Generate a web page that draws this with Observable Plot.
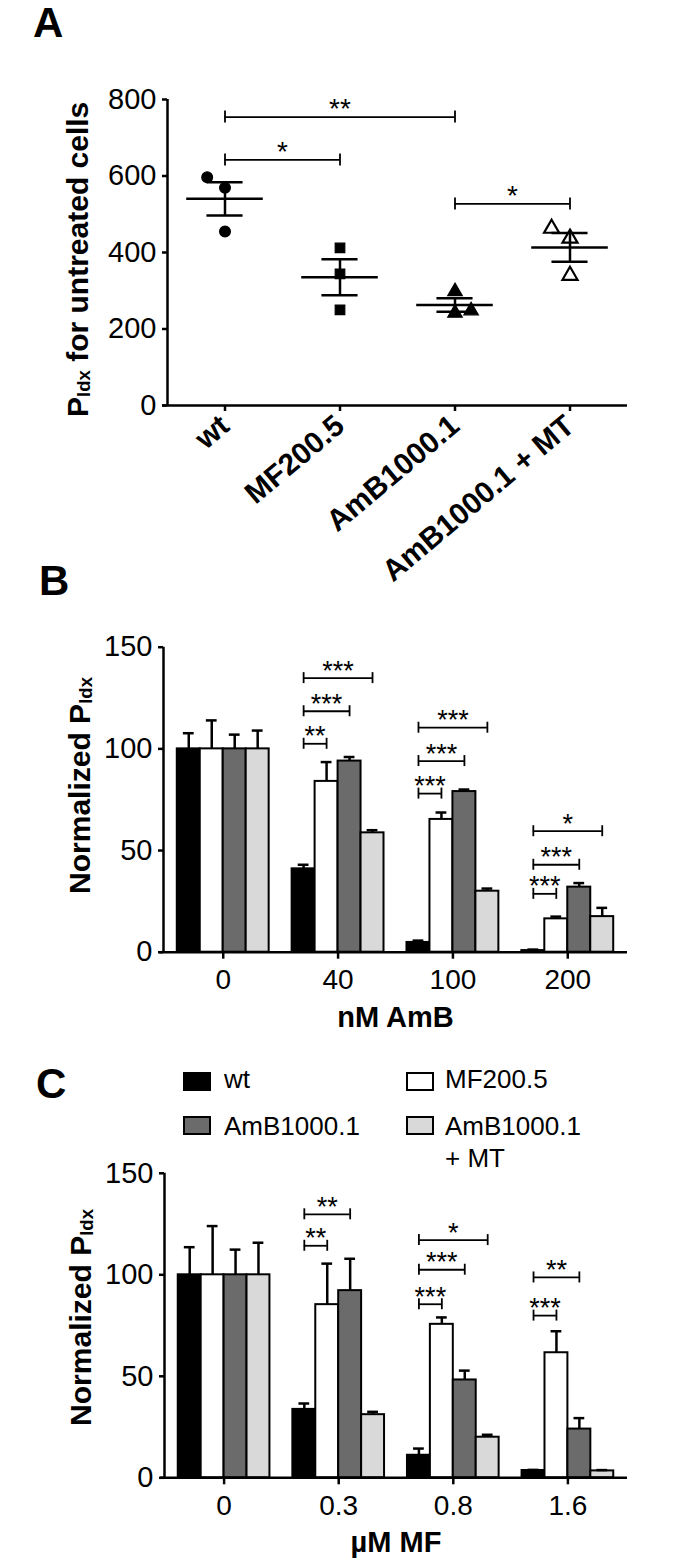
<!DOCTYPE html>
<html>
<head>
<meta charset="utf-8">
<script src="https://cdn.jsdelivr.net/npm/d3@7"></script>
<script src="https://cdn.jsdelivr.net/npm/@observablehq/plot@0.6"></script>
<style>
  html, body { margin: 0; padding: 0; background: #fff; }
  body { font-family: "Liberation Sans", Arial, Helvetica, sans-serif; color: #000; }
  #root { position: relative; width: 673px; height: 1566px; overflow: hidden; background: #fff; }
  .panel { position: absolute; left: 0; }
  .letter { position: absolute; font-weight: bold; font-size: 42px; line-height: 42px; }
  .sw { position: absolute; width: 28px; height: 19px; box-sizing: border-box; border: 2px solid #000; }
  .lt { position: absolute; font-size: 26px; line-height: 26px; white-space: nowrap; }
</style>
</head>
<body>
<div id="root"></div>
<script>
// ---------------- data ----------------
const strains = ["wt", "MF200.5", "AmB1000.1", "AmB1000.1 + MT"];
const strainColors = ["#000000", "#ffffff", "#6b6b6b", "#d9d9d9"];

// Panel A: individual P_ldx values for untreated cells (n = 3 each)
const aWt = [597, 569, 455];
const aMF200 = [412, 344, 250];
const aAmB1000 = [298, 242, 248];
const aAmBMT = [463, 437, 340];
const aJitter = [[-0.155, 0, 0], [0, 0, 0], [0, 0, 0.14], [-0.16, 0, 0]];
const aTicks = [0, 200, 400, 600, 800];
const aSig = [
  {from: 0, to: 2, y: 754, label: "**"},
  {from: 0, to: 1, y: 642, label: "*"},
  {from: 2, to: 3, y: 527, label: "*"}
];

// Panel B: normalized P_ldx vs nM AmB (mean, SEM) per strain
const bDoses = ["0", "40", "100", "200"];
const bWt = [100, 41, 4.8, 0.8];
const bMF200 = [100, 84, 65.3, 16.4];
const bAmB1000 = [100, 94, 79, 32];
const bAmBMT = [100, 58.7, 30, 17.5];
const bWtSem = [7.7, 2, 0.9, 0.5];
const bMF200Sem = [14, 9.5, 3.4, 1.1];
const bAmB1000Sem = [7, 2, 1, 2];
const bAmBMTSem = [9, 1.3, 1.3, 4.3];
const bSig = [
  {g: 1, to: 1, y: 102.5, label: "**"},
  {g: 1, to: 2, y: 118.5, label: "***"},
  {g: 1, to: 3, y: 134.8, label: "***"},
  {g: 2, to: 1, y: 78, label: "***"},
  {g: 2, to: 2, y: 94, label: "***"},
  {g: 2, to: 3, y: 110.4, label: "***"},
  {g: 3, to: 1, y: 28.7, label: "***"},
  {g: 3, to: 2, y: 43, label: "***"},
  {g: 3, to: 3, y: 59.5, label: "*"}
];

// Panel C: normalized P_ldx vs µM MF (mean, SEM) per strain
const cDoses = ["0", "0.3", "0.8", "1.6"];
const cWt = [100, 33.7, 11.1, 3.6];
const cMF200 = [100, 85.3, 75.6, 61.6];
const cAmB1000 = [100, 92.2, 48.2, 24];
const cAmBMT = [100, 31.1, 20, 3.4];
const cWtSem = [13.6, 2.9, 3.3, 0.3];
const cMF200Sem = [24, 20.2, 3.4, 10.6];
const cAmB1000Sem = [12.4, 15.7, 4.6, 5.4];
const cAmBMTSem = [15.8, 1.4, 1.2, 0.4];
const cSig = [
  {g: 1, to: 1, y: 114.3, label: "**"},
  {g: 1, to: 2, y: 129.8, label: "**"},
  {g: 2, to: 1, y: 85.5, label: "***"},
  {g: 2, to: 2, y: 102.5, label: "***"},
  {g: 2, to: 3, y: 117.1, label: "*"},
  {g: 3, to: 1, y: 79.9, label: "***"},
  {g: 3, to: 2, y: 98.7, label: "**"}
];
const barTicks = [0, 50, 100, 150];

// ---------------- helpers ----------------
const FONT = "Liberation Sans, Arial, Helvetica, sans-serif";
const root = document.getElementById("root");

function subscriptify(svg, shift) {
  d3.select(svg).selectAll("text").each(function () {
    const t = this.textContent;
    const m = t.match(/^(.*)_\{(.*?)\}(.*)$/);
    if (!m) return;
    const el = d3.select(this);
    el.text(null);
    el.append("tspan").text(m[1]);
    el.append("tspan").attr("font-size", "62%").attr("dy", shift).text(m[2]);
    if (m[3]) el.append("tspan").attr("dy", -shift).text(m[3]);
  });
}

function place(node, top) {
  const wrap = document.createElement("div");
  wrap.className = "panel";
  wrap.style.top = top + "px";
  wrap.appendChild(node);
  root.appendChild(wrap);
}

function addDiv(cls, text, left, top, extra) {
  const d = document.createElement("div");
  d.className = cls;
  d.textContent = text;
  d.style.left = left + "px";
  d.style.top = top + "px";
  if (extra) Object.assign(d.style, extra);
  root.appendChild(d);
  return d;
}

// ---------------- Panel A ----------------
{
  const groups = [aWt, aMF200, aAmB1000, aAmBMT];
  const symbols = ["circle", "square", "triangle", "triangle"];
  const fills = ["black", "black", "black", "white"];
  const stats = groups.map((vals, i) => ({
    i, m: d3.mean(vals), sem: d3.deviation(vals) / Math.sqrt(vals.length)
  }));
  const dotMarks = groups.map((vals, i) =>
    Plot.dot(vals.map((v, j) => ({i, j, v})), {
      x: d => d.i + aJitter[d.i][d.j], y: "v",
      symbol: symbols[i], r: i === 3 ? 5.6 : 5.4,
      fill: fills[i], stroke: "black", strokeWidth: i === 3 ? 2.2 : 1.2
    })
  );
  const ends = aSig.flatMap(s => [{x: s.from, y: s.y}, {x: s.to, y: s.y}]);
  const xDomain = [-0.5, 3.5];
  const plotA = Plot.plot({
    width: 673, height: 600,
    marginLeft: 167, marginRight: 46, marginTop: 99, marginBottom: 195,
    style: {fontFamily: FONT, fontSize: "29px", color: "black", background: "white", overflow: "visible"},
    x: {type: "linear", domain: xDomain},
    y: {domain: [0, 800]},
    marks: [
      Plot.ruleX([xDomain[0]], {strokeWidth: 2.5}),
      Plot.ruleY([0], {strokeWidth: 2.5, insetLeft: -5}),
      Plot.axisY({ticks: aTicks, tickSize: 5, tickPadding: 6, strokeWidth: 2.5, fontSize: 29, label: null, tickFormat: d => d}),
      Plot.axisX({ticks: [0, 1, 2, 3], tickFormat: i => strains[i], tickRotate: -40, tickSize: 6, tickPadding: 10,
        strokeWidth: 2.5, fontSize: 30, fontWeight: "bold", label: null}),
      ...dotMarks,
      Plot.ruleY(stats, {y: "m", x1: d => d.i - 0.333, x2: d => d.i + 0.333, strokeWidth: 2.5}),
      Plot.ruleY(stats, {y: d => d.m + d.sem, x1: d => d.i - 0.157, x2: d => d.i + 0.157, strokeWidth: 2.5}),
      Plot.ruleY(stats, {y: d => d.m - d.sem, x1: d => d.i - 0.157, x2: d => d.i + 0.157, strokeWidth: 2.5}),
      Plot.ruleX(stats, {x: "i", y1: d => d.m - d.sem, y2: d => d.m + d.sem, strokeWidth: 2.5}),
      Plot.ruleY(aSig, {y: "y", x1: "from", x2: "to", strokeWidth: 1.8}),
      Plot.ruleX(ends, {x: "x", y1: "y", y2: "y", insetTop: -6, insetBottom: -6, strokeWidth: 1.8}),
      Plot.text(aSig, {x: d => (d.from + d.to) / 2, y: "y", text: "label", fontSize: 28, dy: -8}),
      Plot.text(["P_{ldx} for untreated cells"], {text: d => d, y: () => 382, frameAnchor: "left", textAnchor: "middle",
        rotate: -90, dx: -89, fontSize: 30, fontWeight: "bold"})
    ]
  });
  subscriptify(plotA, 2);
  place(plotA, 0);
}

// ---------------- Bar panels ----------------
function barPanel(opt) {
  const {doses, means, sems, sig, yLabel, xLabel, top, height, marginTop, marginBottom, marginLeft} = opt;
  const barW = 0.2;
  const xDomain = [-0.52, 3.52];
  const rows = [];
  means.forEach((vals, s) => vals.forEach((v, g) => rows.push({g, s, v, e: sems[s][g]})));
  const cx = d => d.g + (d.s - 1.5) * barW;
  const sigX1 = d => d.g + (0 - 1.5) * barW;
  const sigX2 = d => d.g + (d.to - 1.5) * barW;
  const ends = sig.flatMap(d => [{x: sigX1(d), y: d.y}, {x: sigX2(d), y: d.y}]);
  const p = Plot.plot({
    width: 673, height,
    marginLeft, marginRight: 46, marginTop, marginBottom,
    style: {fontFamily: FONT, fontSize: "28px", color: "black", background: "white", overflow: "visible"},
    x: {type: "linear", domain: xDomain},
    y: {domain: [0, 150]},
    color: {type: "identity"},
    marks: [
      Plot.rect(rows, {x1: d => cx(d) - barW / 2, x2: d => cx(d) + barW / 2, y1: 0, y2: "v",
        fill: d => strainColors[d.s], stroke: "black", strokeWidth: 2}),
      Plot.ruleX(rows, {x: cx, y1: "v", y2: d => d.v + d.e, strokeWidth: 2.5}),
      Plot.ruleY(rows, {y: d => d.v + d.e, x1: d => cx(d) - 0.047, x2: d => cx(d) + 0.047, strokeWidth: 2.5}),
      Plot.ruleX([xDomain[0]], {strokeWidth: 2.5}),
      Plot.ruleY([0], {strokeWidth: 2.5, insetLeft: -4}),
      Plot.axisY({ticks: barTicks, tickSize: 5, tickPadding: 6, strokeWidth: 2.5, fontSize: 29, label: null, tickFormat: d => d}),
      Plot.axisX({ticks: [0, 1, 2, 3], tickFormat: i => doses[i], tickSize: 7, tickPadding: 10,
        strokeWidth: 2.5, fontSize: 28, label: null}),
      Plot.ruleY(sig, {y: "y", x1: sigX1, x2: sigX2, strokeWidth: 1.8}),
      Plot.ruleX(ends, {x: "x", y1: "y", y2: "y", insetTop: -5.5, insetBottom: -5.5, strokeWidth: 1.8}),
      Plot.text(sig, {x: d => (sigX1(d) + sigX2(d)) / 2, y: "y", text: "label", fontSize: 27, dy: -7}),
      Plot.text([yLabel], {text: d => d, y: () => opt.yLabelAt, frameAnchor: "left", textAnchor: "middle", rotate: -90,
        dx: -83, fontSize: 30, fontWeight: "bold"}),
      Plot.text([xLabel], {text: d => d, frameAnchor: "bottom", textAnchor: "middle", dy: opt.xLabelDy,
        fontSize: 29, fontWeight: "bold"})
    ]
  });
  subscriptify(p, 2);
  place(p, top);
}

barPanel({
  doses: bDoses, means: [bWt, bMF200, bAmB1000, bAmBMT], sems: [bWtSem, bMF200Sem, bAmB1000Sem, bAmBMTSem],
  sig: bSig, yLabel: "Normalized P_{ldx}", xLabel: "nM AmB",
  top: 600, height: 440, marginTop: 46.7, marginBottom: 88.3, marginLeft: 163, yLabelAt: 82, xLabelDy: 75
});

barPanel({
  doses: cDoses, means: [cWt, cMF200, cAmB1000, cAmBMT], sems: [cWtSem, cMF200Sem, cAmB1000Sem, cAmBMTSem],
  sig: cSig, yLabel: "Normalized P_{ldx}", xLabel: "µM MF",
  top: 1040, height: 526, marginTop: 132.8, marginBottom: 88.7, marginLeft: 164, yLabelAt: 79, xLabelDy: 74
});

// ---------------- panel letters ----------------
addDiv("letter", "A", 33, 1.5);
addDiv("letter", "B", 39, 559.5);
addDiv("letter", "C", 36, 1062.5);

// ---------------- legend (panel C) ----------------
const legendPos = [
  {left: 183, top: 1071.7, tx: 224, ty: 1066},
  {left: 406, top: 1071.7, tx: 445, ty: 1066},
  {left: 183, top: 1116, tx: 224, ty: 1113},
  {left: 406, top: 1116, tx: 445, ty: 1113}
];
const legendOrder = [0, 1, 2, 3];
const legendText = ["wt", "MF200.5", "AmB1000.1", "AmB1000.1\n+ MT"];
legendOrder.forEach((s, k) => {
  const p = legendPos[k];
  const sw = addDiv("sw", "", p.left, p.top);
  sw.style.background = strainColors[s];
  const lines = legendText[s].split("\n");
  lines.forEach((ln, li) => addDiv("lt", ln, p.tx, p.ty + li * 31.5));
});
</script>
</body>
</html>
